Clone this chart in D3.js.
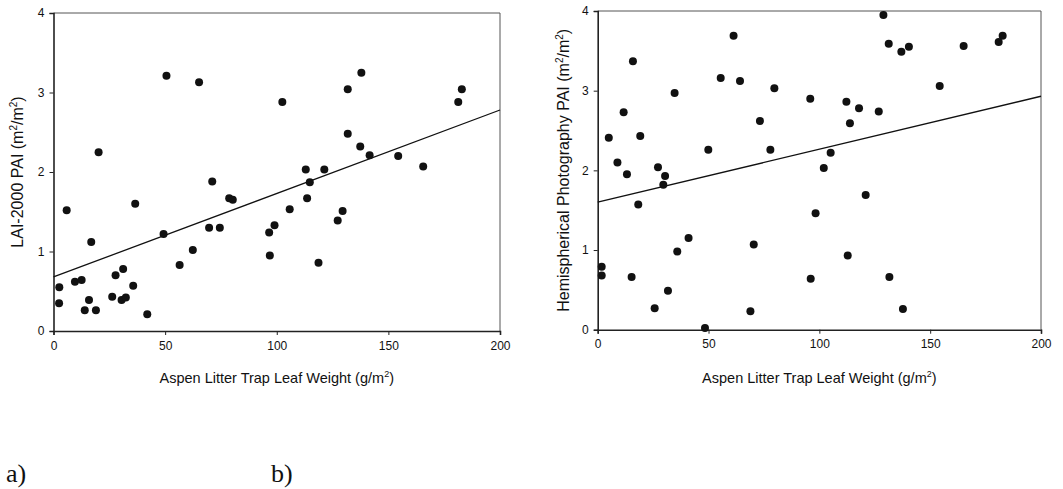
<!DOCTYPE html>
<html>
<head>
<meta charset="utf-8">
<script src="https://cdn.jsdelivr.net/npm/d3@7"></script>
<style>
  body { margin: 0; background: #fff; }
  svg text { font-family: "Liberation Sans", Arial, sans-serif; fill: #111; }
  .panel-tag { font-family: "Liberation Serif", "Times New Roman", serif; font-size: 26px; }
</style>
</head>
<body>
<div id="chart"></div>
<script>
'use strict';

// litter trap leaf weight (g/m2) vs LAI-2000 PAI, panel a
var litterA = [20.2, 50.6, 65.2, 71.1, 78.7, 80.3, 102.5, 113, 114.8, 113.6, 121.3, 131.8, 137.9, 131.8, 137.4,
  141.6, 154.4, 165.6, 181.3, 182.9, 5.9, 36.6, 105.8, 129.5, 127.3, 16.9, 49.3, 69.7, 74.5, 96.6, 99, 96.9,
  118.7, 62.4, 56.5, 2.6, 2.5, 9.6, 12.6, 14, 15.9, 19, 26.3, 27.8, 31.2, 30.5, 32.4, 35.7, 42];
var laiPAI = [2.25, 3.21, 3.13, 1.88, 1.67, 1.65, 2.88, 2.03, 1.87, 1.67, 2.03, 3.04, 3.25, 2.48, 2.32,
  2.21, 2.20, 2.07, 2.88, 3.04, 1.52, 1.60, 1.53, 1.51, 1.39, 1.12, 1.22, 1.30, 1.30, 1.24, 1.33, 0.95,
  0.86, 1.02, 0.83, 0.55, 0.35, 0.62, 0.64, 0.26, 0.39, 0.26, 0.43, 0.70, 0.78, 0.39, 0.42, 0.57, 0.21];

// litter trap leaf weight vs hemispherical photography PAI, panel b
var litterB = [5.0, 8.9, 11.7, 13.2, 15.9, 19.2, 27.2, 30.4, 29.6, 34.7, 49.9, 55.5, 61.3, 64.2, 73.2, 77.9,
  79.7, 95.9, 102, 105.1, 112.2, 113.8, 117.9, 120.9, 126.8, 128.9, 131.3, 137, 140.4, 154.3, 165.1, 180.9,
  182.7, 18.3, 98.3, 41, 70.4, 35.9, 112.8, 1.8, 1.8, 15.3, 31.7, 96.1, 131.6, 25.7, 68.9, 137.7, 48.4];
var hemiPAI = [2.41, 2.10, 2.73, 1.95, 3.37, 2.43, 2.04, 1.93, 1.82, 2.97, 2.26, 3.16, 3.69, 3.12, 2.62, 2.26,
  3.03, 2.90, 2.03, 2.22, 2.86, 2.59, 2.78, 1.69, 2.74, 3.95, 3.59, 3.49, 3.55, 3.06, 3.56, 3.61,
  3.69, 1.57, 1.46, 1.15, 1.07, 0.98, 0.93, 0.79, 0.68, 0.66, 0.49, 0.64, 0.66, 0.27, 0.23, 0.26, 0.02];

// fitted regression lines at x = 0 and x = 200
var fitX = [0, 200];
var fitA = [0.68, 2.78];
var fitB = [1.60, 2.93];

var xTicks = [0, 50, 100, 150, 200];
var yTicks = [0, 1, 2, 3, 4];
var xLabel = 'Aspen Litter Trap Leaf Weight (g/m';
var yLabelA = 'LAI-2000 PAI (m';
var yLabelB = 'Hemispherical Photography PAI (m';

var svg = d3.select('#chart').append('svg')
  .attr('width', 1063)
  .attr('height', 489);

function drawPanel(opts) {
  var x = d3.scaleLinear().domain([0, 200]).range([opts.left, opts.right]);
  var y = d3.scaleLinear().domain([0, 4]).range([opts.bottom, opts.top]);
  var g = svg.append('g');

  // frame (top + right), light
  g.append('path')
    .attr('d', 'M' + opts.left + ',' + opts.top + 'H' + opts.right + 'V' + opts.bottom)
    .attr('fill', 'none')
    .attr('stroke', '#555')
    .attr('stroke-width', 1);

  var xAxis = g.append('g')
    .attr('transform', 'translate(0,' + opts.bottom + ')')
    .call(d3.axisBottom(x).tickValues(xTicks).tickFormat(d3.format('d')).tickSize(4).tickPadding(6));
  var yAxis = g.append('g')
    .attr('transform', 'translate(' + opts.left + ',0)')
    .call(d3.axisLeft(y).tickValues(yTicks).tickFormat(d3.format('d')).tickSize(4).tickPadding(5));

  [xAxis, yAxis].forEach(function(a) {
    a.select('.domain').attr('stroke', '#222').attr('stroke-width', 1.6);
    a.selectAll('.tick line').attr('stroke', '#222');
    a.selectAll('.tick text').style('font-size', '12px').attr('fill', '#111');
  });

  var line = d3.line()
    .x(function(d) { return x(d[0]); })
    .y(function(d) { return y(d[1]); });
  g.append('path')
    .datum(fitX.map(function(v, i) { return [v, opts.fit[i]]; }))
    .attr('d', line)
    .attr('fill', 'none')
    .attr('stroke', '#111')
    .attr('stroke-width', 1.3);

  g.selectAll('.point')
    .data(opts.xs)
    .enter()
    .append('circle')
    .attr('class', 'point')
    .attr('r', 4)
    .attr('cx', function(d) { return x(d); })
    .attr('cy', function(d, i) { return y(opts.ys[i]); })
    .attr('fill', '#111');

  var xl = g.append('text')
    .attr('x', (opts.left + opts.right) / 2)
    .attr('y', 383)
    .attr('text-anchor', 'middle')
    .style('font-size', '14.5px')
    .text(xLabel);
  xl.append('tspan').attr('dy', -6).style('font-size', '9px').text('2');
  xl.append('tspan').attr('dy', 6).text(')');

  var yl = g.append('text')
    .attr('transform', 'translate(' + opts.yLabelX + ',' + ((opts.top + opts.bottom) / 2) + ') rotate(-90)')
    .attr('text-anchor', 'middle')
    .style('font-size', '16px')
    .text(opts.yLabel);
  yl.append('tspan').attr('dy', -6).style('font-size', '10px').text('2');
  yl.append('tspan').attr('dy', 6).text('/m');
  yl.append('tspan').attr('dy', -6).style('font-size', '10px').text('2');
  yl.append('tspan').attr('dy', 6).text(')');

  svg.append('text')
    .attr('class', 'panel-tag')
    .attr('x', opts.tagX)
    .attr('y', 482)
    .text(opts.tag);
}

drawPanel({ left: 53.5, right: 500, top: 13, bottom: 331, fit: fitA, xs: litterA, ys: laiPAI,
  yLabel: yLabelA, yLabelX: 23, tag: 'a)', tagX: 6 });
drawPanel({ left: 597.7, right: 1041, top: 11, bottom: 329.7, fit: fitB, xs: litterB, ys: hemiPAI,
  yLabel: yLabelB, yLabelX: 569, tag: 'b)', tagX: 271 });
</script>
</body>
</html>
